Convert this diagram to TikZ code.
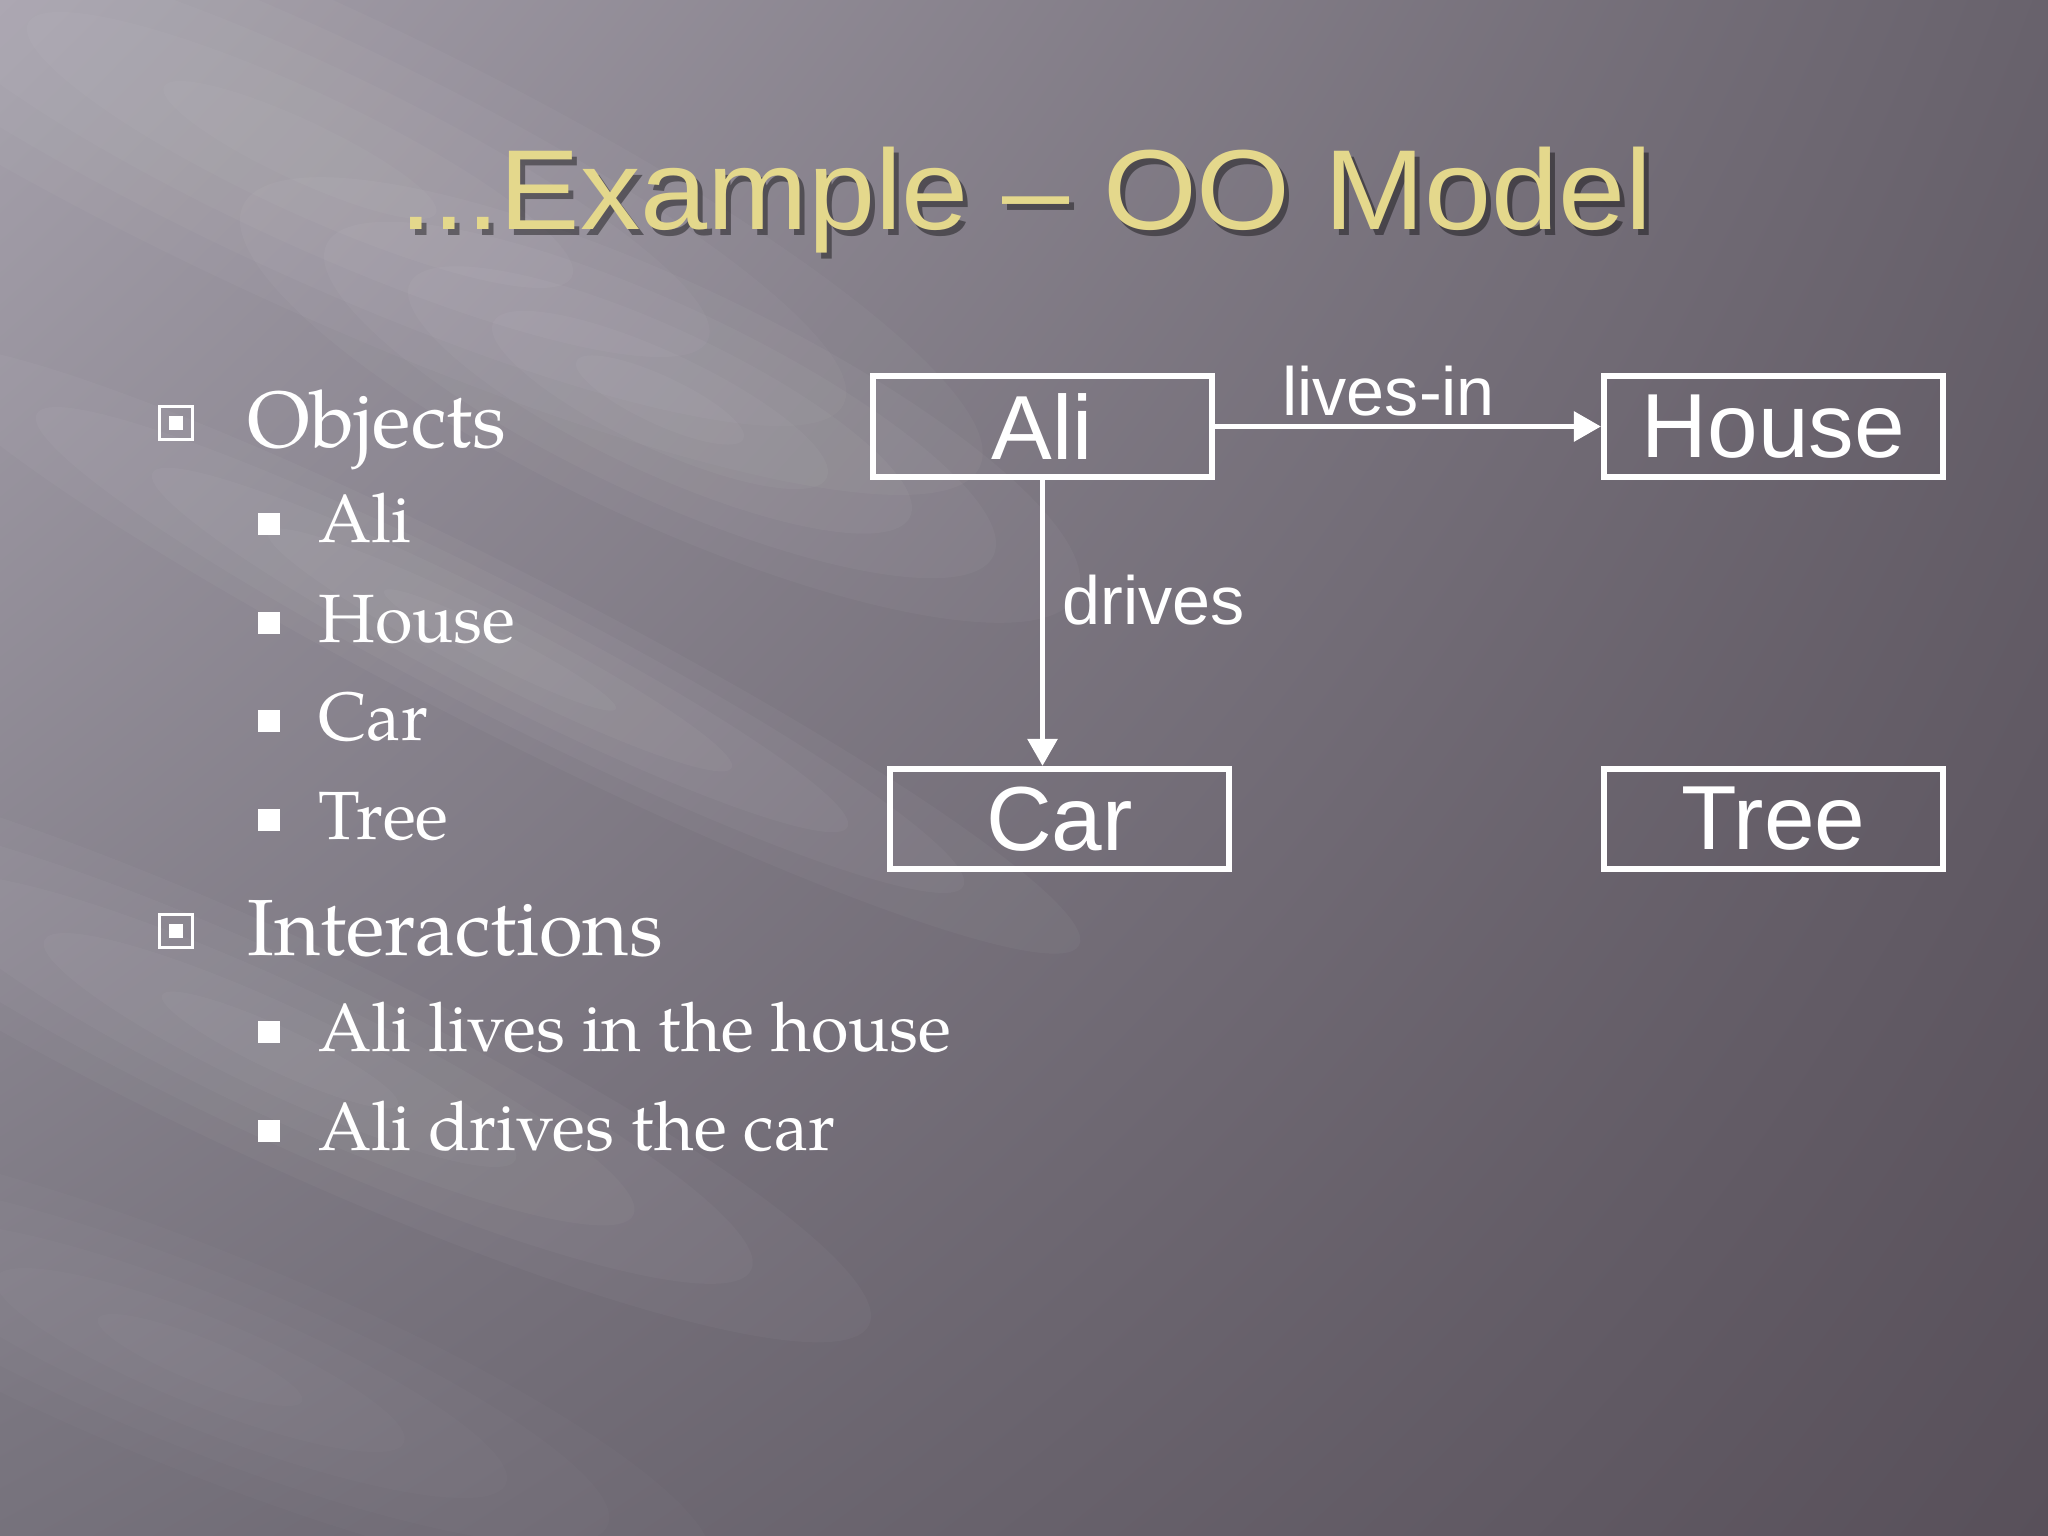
\documentclass[tikz,border=0pt]{standalone}
\usepackage{fontspec}
\setmainfont{Liberation Sans}
\newfontfamily\bodyfont{texgyrepagella}[Extension=.otf, UprightFont=*-regular]
\usetikzlibrary{arrows.meta,shadings}

\def\pxu{0.35156pt}
\definecolor{bgul}{RGB}{166,161,172}
\definecolor{bgur}{RGB}{104,98,108}
\definecolor{bgll}{RGB}{118,114,124}
\definecolor{bglr}{RGB}{88,80,90}
\definecolor{titlegold}{RGB}{228,216,140}

\begin{document}
\begin{tikzpicture}
  [
    x=\pxu, y=-\pxu,
    objbox/.style =
      {draw=white, line width=2.1pt, rectangle, align=center, text=white,
       minimum width=119.2pt, minimum height=35.2pt, inner sep=0pt,
       font=\fontsize{32}{38}\selectfont},
    link/.style =
      {draw=white, line width=2pt, -{Triangle[length=9.5pt, width=10.2pt]}},
    linklabel/.style =
      {text=white, inner sep=0pt, font=\fontsize{24}{29}\selectfont},
    titletext/.style =
      {anchor=base, inner sep=0pt, xscale=1.06, transform shape,
       font=\fontsize{40}{48}\selectfont},
    lvlone/.style =
      {anchor=base west, inner sep=0pt, text=white,
       font=\bodyfont\fontsize{28}{34}\selectfont},
    lvltwo/.style =
      {anchor=base west, inner sep=0pt, text=white,
       font=\bodyfont\fontsize{24}{29}\selectfont},
    onemark/.style =
      {draw=white, line width=1.4pt, minimum size=11.6pt, inner sep=0pt,
       path picture={\fill[white]
         ([xshift=-2.45pt, yshift=-2.45pt]path picture bounding box.center) rectangle
         ([xshift=2.45pt, yshift=2.45pt]path picture bounding box.center);}},
    twomark/.style =
      {fill=white, minimum size=7.7pt, inner sep=0pt}
  ]

\useasboundingbox (0,0) rectangle (2048,1536);

% background
\shade[upper left=bgul, upper right=bgur, lower left=bgll, lower right=bglr]
  (0,0) rectangle (2048,1536);
\begin{scope}
  \clip (0,0) rectangle (2048,1536);
  \foreach \cx/\cy/\len/\wid/\ang/\o in
    {300/150/750/150/-25/0.03, 660/400/460/120/-25/0.035,
     500/650/650/80/-27/0.035, 280/1050/650/110/-25/0.03,
     200/1360/550/110/-22/0.02}
  {
    \foreach \k in {1,0.8,0.6,0.4,0.2} {
      \fill[white, opacity=\o, rotate around={\ang:(\cx,\cy)}]
        (\cx,\cy) ellipse ({\len*\k} and {\wid*\k});
    }
  }
\end{scope}

% title
\node[titletext, text=black, opacity=0.4] (titleshade) at (1031,236) {...Example -- OO Model};
\node[titletext, text=titlegold] (title) at (1026,230) {...Example -- OO Model};

% bullet list
\node[onemark] (objmark) at (176,423) {};
\node[lvlone] (objtext) at (247,448) {Objects};
\node[twomark] (alimark) at (269,524) {};
\node[lvltwo] (alitext) at (318,543) {Ali};
\node[twomark] (housemark) at (269,623) {};
\node[lvltwo] (housetext) at (318,642) {House};
\node[twomark] (carmark) at (269,721) {};
\node[lvltwo] (cartext) at (318,740) {Car};
\node[twomark] (treemark) at (269,820) {};
\node[lvltwo] (treetext) at (318,839) {Tree};

\node[onemark] (actmark) at (176,931) {};
\node[lvlone] (acttext) at (247,955) {Interactions};
\node[twomark] (livesmark) at (269,1032) {};
\node[lvltwo] (livestext) at (318,1051) {Ali lives in the house};
\node[twomark] (drivesmark) at (269,1131) {};
\node[lvltwo] (drivestext) at (318,1150) {Ali drives the car};

% object diagram
\node[objbox] (ali) at (1042.5,426.5) {Ali};
\node[objbox] (house) at (1773.5,426.5) {House};
\node[objbox] (car) at (1059.5,819) {Car};
\node[objbox] (tree) at (1773.5,819) {Tree};

\draw[link] (ali.east) -- node[linklabel, above, pos=0.45, yshift=2.8pt] (liveslabel) {lives-in} (house.west);
\draw[link] (ali.south) -- node[linklabel, right, pos=0.42, xshift=6pt] (driveslabel) {drives} (ali.south |- car.north);

\end{tikzpicture}
\end{document}
